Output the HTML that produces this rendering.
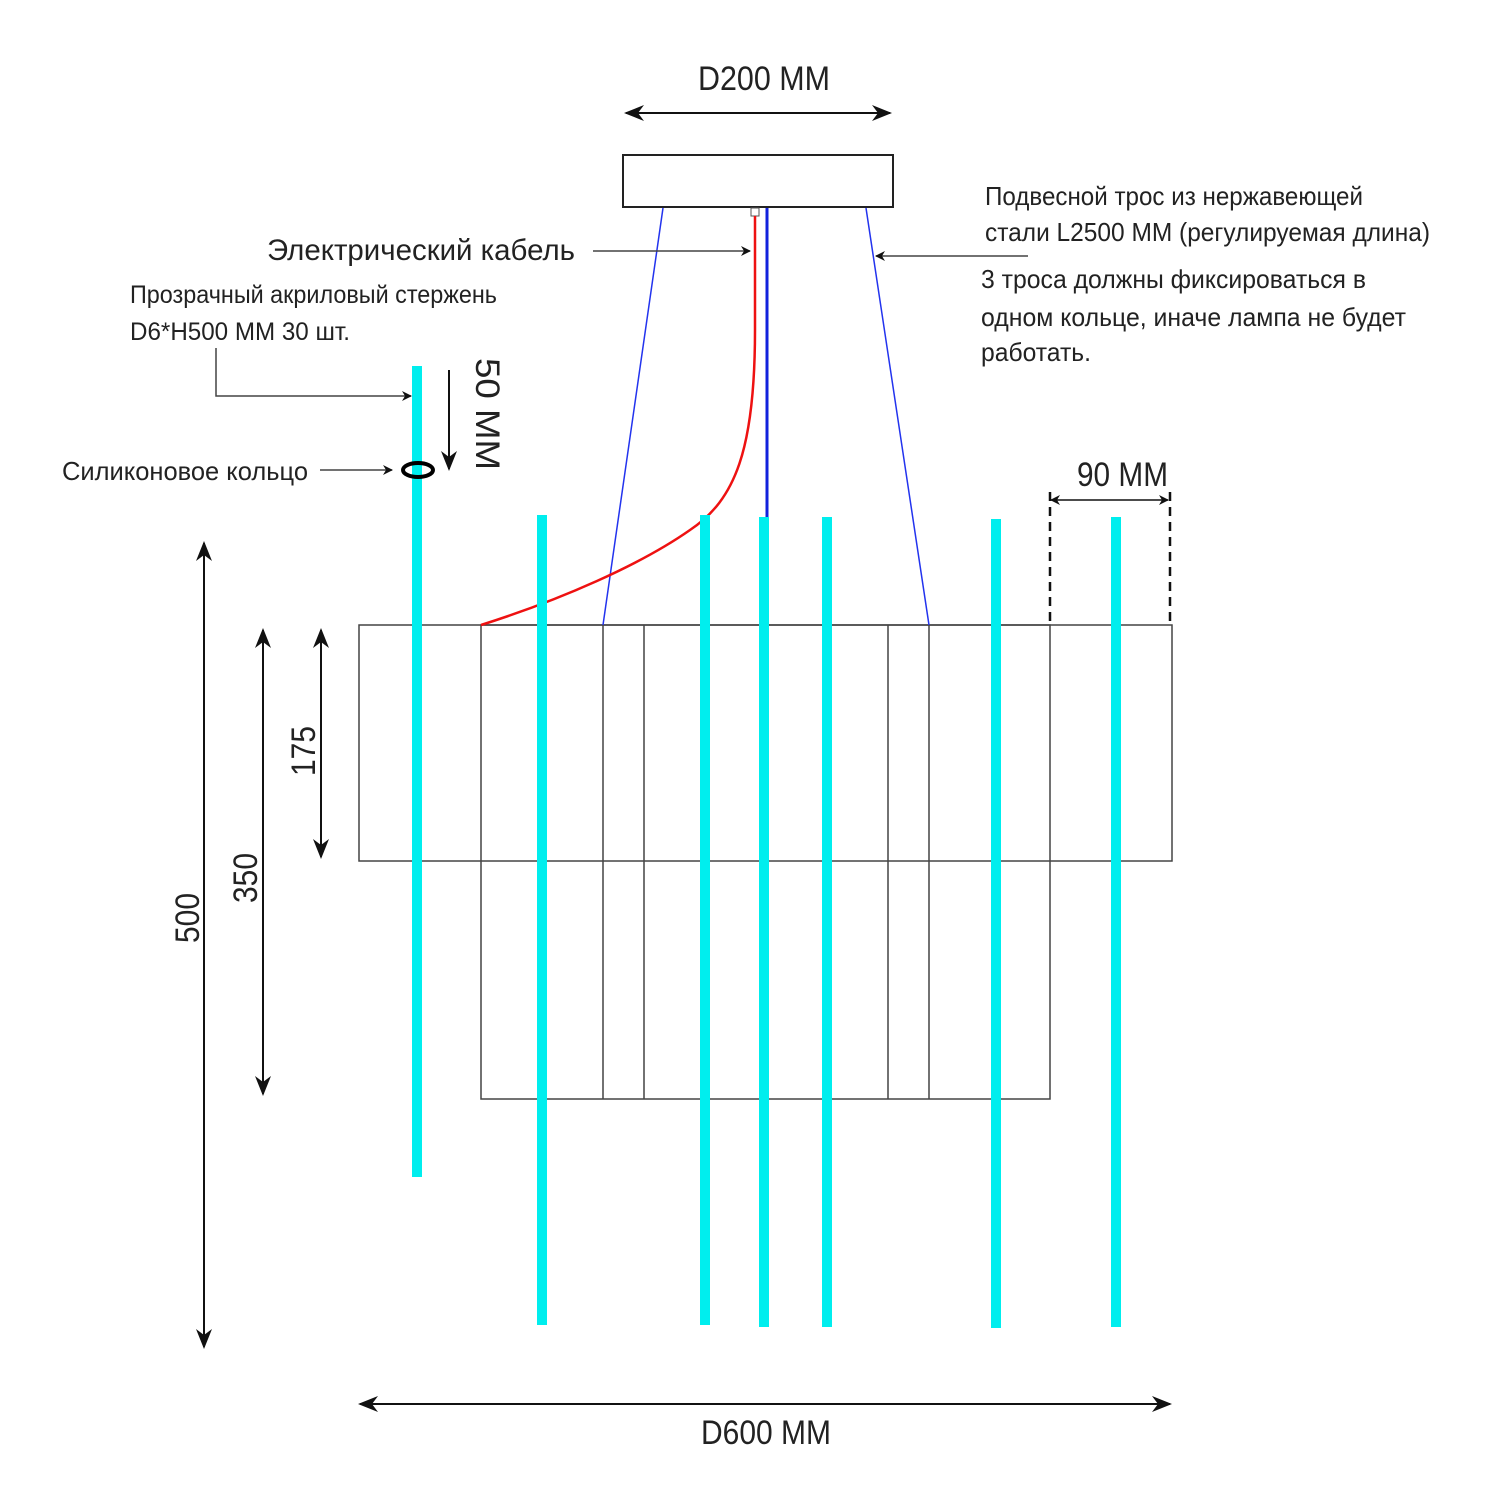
<!DOCTYPE html>
<html><head><meta charset="utf-8"><style>
html,body{margin:0;padding:0;background:#fff;}
svg{display:block;}
text{font-family:"Liberation Sans Narrow","Liberation Sans",sans-serif;fill:#222;}
</style></head><body>
<svg width="1500" height="1500" viewBox="0 0 1500 1500">
<defs>
<marker id="ah" viewBox="0 0 10 10" refX="9" refY="5" markerWidth="10" markerHeight="10" markerUnits="userSpaceOnUse" orient="auto-start-reverse"><path d="M0,0 L10,5 L0,10 L3,5 Z" fill="#111"/></marker>
<marker id="ahb" viewBox="0 0 10 10" refX="9" refY="5" markerWidth="20" markerHeight="20" markerUnits="userSpaceOnUse" orient="auto-start-reverse"><path d="M0,1 L10,5 L0,9 L3,5 Z" fill="#111"/></marker>
</defs>

<g stroke="#444" stroke-width="1.5" fill="none">
<rect x="359" y="625" width="813" height="236"/>
<rect x="481" y="625" width="569" height="474"/>
<line x1="603" y1="625" x2="603" y2="1099"/>
<line x1="644" y1="625" x2="644" y2="1099"/>
<line x1="888" y1="625" x2="888" y2="1099"/>
<line x1="929" y1="625" x2="929" y2="1099"/>
</g>

<rect x="623" y="155" width="270" height="52" fill="#fff" stroke="#222" stroke-width="2"/>
<rect x="751" y="208" width="8" height="8" fill="#fff" stroke="#555" stroke-width="1"/>

<line x1="663" y1="208" x2="603" y2="625" stroke="#2233ee" stroke-width="1.5"/>
<line x1="866" y1="208" x2="929" y2="625" stroke="#2233ee" stroke-width="1.5"/>
<line x1="767" y1="208" x2="767" y2="517" stroke="#1122dd" stroke-width="3"/>
<path d="M755,216 L755,330 C755,450 735,500 690,530 C640,565 560,600 481,625" fill="none" stroke="#ee1111" stroke-width="2.5"/>

<g fill="#00eeee">
<rect x="412" y="366" width="10" height="811"/>
<rect x="537" y="515" width="10" height="810"/>
<rect x="700" y="515" width="10" height="810"/>
<rect x="759" y="517" width="10" height="810"/>
<rect x="822" y="517" width="10" height="810"/>
<rect x="991" y="519" width="10" height="809"/>
<rect x="1111" y="517" width="10" height="810"/>
</g>
<ellipse cx="418" cy="470" rx="15" ry="7" fill="none" stroke="#000" stroke-width="4"/>

<g stroke="#111" stroke-width="2" fill="none">
<line x1="626" y1="113" x2="890" y2="113" marker-start="url(#ahb)" marker-end="url(#ahb)"/>
<line x1="360" y1="1404" x2="1170" y2="1404" marker-start="url(#ahb)" marker-end="url(#ahb)"/>
<line x1="204" y1="543" x2="204" y2="1347" marker-start="url(#ahb)" marker-end="url(#ahb)"/>
<line x1="263" y1="630" x2="263" y2="1094" marker-start="url(#ahb)" marker-end="url(#ahb)"/>
<line x1="321" y1="630" x2="321" y2="857" marker-start="url(#ahb)" marker-end="url(#ahb)"/>
<line x1="449" y1="370" x2="449" y2="469" marker-end="url(#ahb)"/>
<line x1="1051" y1="500" x2="1168" y2="500" stroke-width="1.5" marker-start="url(#ah)" marker-end="url(#ah)"/>
<line x1="1050" y1="492" x2="1050" y2="625" stroke-dasharray="9,6" stroke-width="2.5"/>
<line x1="1170" y1="492" x2="1170" y2="625" stroke-dasharray="9,6" stroke-width="2.5"/>
</g>
<g stroke="#444" stroke-width="1.5" fill="none">
<line x1="593" y1="251" x2="750" y2="251" marker-end="url(#ah)"/>
<polyline points="216,348 216,396 411,396" marker-end="url(#ah)"/>
<line x1="320" y1="470" x2="392" y2="470" marker-end="url(#ah)"/>
<line x1="1028" y1="256" x2="876" y2="256" marker-end="url(#ah)"/>
</g>

<text x="764" y="90" font-size="34" text-anchor="middle" textLength="132" lengthAdjust="spacingAndGlyphs">D200 MM</text>
<text x="766" y="1444" font-size="34" text-anchor="middle" textLength="130" lengthAdjust="spacingAndGlyphs">D600 MM</text>
<text x="1077" y="486" font-size="34" textLength="91" lengthAdjust="spacingAndGlyphs">90 MM</text>
<text x="267" y="260" font-size="30" textLength="308" lengthAdjust="spacingAndGlyphs">Электрический  кабель</text>
<text x="130" y="303" font-size="25" textLength="367" lengthAdjust="spacingAndGlyphs">Прозрачный акриловый стержень</text>
<text x="130" y="340" font-size="25" textLength="220" lengthAdjust="spacingAndGlyphs">D6*H500 MM  30 шт.</text>
<text x="62" y="480" font-size="26" textLength="246" lengthAdjust="spacingAndGlyphs">Силиконовое   кольцо</text>
<text x="985" y="205" font-size="26" textLength="378" lengthAdjust="spacingAndGlyphs">Подвесной трос из нержавеющей</text>
<text x="985" y="241" font-size="26" textLength="445" lengthAdjust="spacingAndGlyphs">стали L2500 MM (регулируемая длина)</text>
<text x="981" y="288" font-size="26" textLength="385" lengthAdjust="spacingAndGlyphs">3 троса должны фиксироваться в</text>
<text x="981" y="326" font-size="26" textLength="425" lengthAdjust="spacingAndGlyphs">одном кольце, иначе лампа не будет</text>
<text x="981" y="361" font-size="26" textLength="110" lengthAdjust="spacingAndGlyphs">работать.</text>
<text transform="translate(476,414) rotate(90)" font-size="34" text-anchor="middle" textLength="112" lengthAdjust="spacingAndGlyphs">50 MM</text>
<text transform="translate(199,918) rotate(-90)" font-size="34" text-anchor="middle" textLength="50" lengthAdjust="spacingAndGlyphs">500</text>
<text transform="translate(257,878) rotate(-90)" font-size="34" text-anchor="middle" textLength="50" lengthAdjust="spacingAndGlyphs">350</text>
<text transform="translate(315,751) rotate(-90)" font-size="34" text-anchor="middle" textLength="50" lengthAdjust="spacingAndGlyphs">175</text>
</svg>
</body></html>
